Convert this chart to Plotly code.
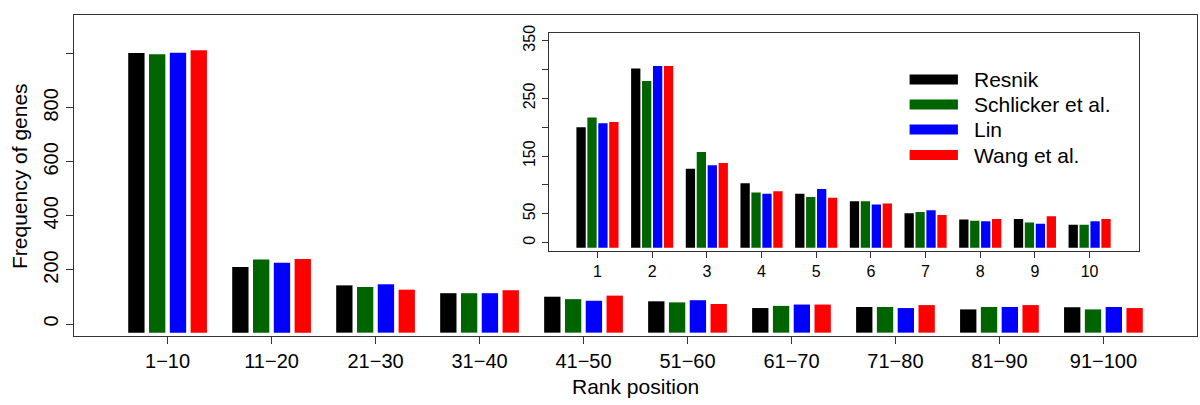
import plotly.graph_objects as go

# ---- data ----
series_names = ["Resnik", "Schlicker et al.", "Lin", "Wang et al."]
series_colors = ["#000000", "#006400", "#0000FF", "#FF0000"]

rank_bins = ["1−10", "11−20", "21−30", "31−40", "41−50",
             "51−60", "61−70", "71−80", "81−90", "91−100"]
main_resnik = [1003, 211, 143, 114, 101, 84, 59, 63, 54, 62]
main_schlicker = [998, 239, 137, 114, 92, 80, 67, 63, 63, 54]
main_lin = [1004, 227, 147, 114, 86, 88, 72, 59, 63, 63]
main_wang = [1013, 241, 127, 125, 105, 74, 72, 70, 70, 59]

top_ranks = ["1", "2", "3", "4", "5", "6", "7", "8", "9", "10"]
inset_resnik = [200, 302, 128, 103, 85, 72, 51, 40, 41, 31]
inset_schlicker = [217, 280, 157, 87, 79, 72, 53, 38, 35, 31]
inset_lin = [207, 306, 134, 85, 93, 66, 56, 37, 33, 37]
inset_wang = [209, 306, 138, 89, 78, 68, 48, 41, 46, 41]

main_yticks = [0, 200, 400, 600, 800, 1000]
main_yticktext = ["0", "200", "400", "600", "800", ""]
inset_yticks = [0, 50, 100, 150, 200, 250, 300, 350]
inset_yticktext = ["0", "50", "", "150", "", "250", "", "350"]

main_series = [main_resnik, main_schlicker, main_lin, main_wang]
inset_series = [inset_resnik, inset_schlicker, inset_lin, inset_wang]

# ---- styling ----
FONT = "Liberation Sans, Arial, Helvetica, sans-serif"
AXC = "#333333"
MAIN_BASE = -32
INSET_BASE = -8.7

fig = go.Figure()

main_w = 0.157
for j, (name, col, vals) in enumerate(zip(series_names, series_colors, main_series)):
    fig.add_trace(go.Bar(
        x=rank_bins, y=[v - MAIN_BASE for v in vals], base=MAIN_BASE,
        name=name, marker=dict(color=col, line=dict(width=0)),
        width=main_w, offset=-0.4 + j * 0.2 + (0.2 - main_w) / 2,
        xaxis="x", yaxis="y", showlegend=False,
    ))

inset_w = 0.17
for j, (name, col, vals) in enumerate(zip(series_names, series_colors, inset_series)):
    fig.add_trace(go.Bar(
        x=top_ranks, y=[v - INSET_BASE for v in vals], base=INSET_BASE,
        name=name, marker=dict(color=col, line=dict(width=0)),
        width=inset_w, offset=-0.4 + j * 0.2 + (0.2 - inset_w) / 2,
        xaxis="x2", yaxis="y2", showlegend=False,
    ))

# manual legend inside inset
leg_y = [0.788, 0.673, 0.557, 0.440]
shapes = []
annotations = []
for name, col, yy in zip(series_names, series_colors, leg_y):
    shapes.append(dict(type="rect", xref="x2 domain", yref="y2 domain",
                       x0=0.6115, x1=0.6934, y0=yy - 0.023, y1=yy + 0.023,
                       fillcolor=col, line=dict(width=0), layer="above"))
    annotations.append(dict(text=name, xref="x2 domain", yref="y2 domain",
                            x=0.7178, y=yy, xanchor="left", yanchor="middle",
                            showarrow=False, font=dict(size=21, color="black", family=FONT)))

shapes.insert(0, dict(type="rect", xref="x2 domain", yref="y2 domain",
                      x0=0, x1=1, y0=0, y1=1, fillcolor="white",
                      line=dict(width=0), layer="below"))

annotations.append(dict(text="Rank position", xref="paper", yref="paper",
                        x=0.5, y=(336 - 386) / 321, xanchor="center", yanchor="middle",
                        showarrow=False, font=dict(size=21, color="black", family=FONT)))
annotations.append(dict(text="Frequency of genes", xref="paper", yref="paper",
                        x=(20 - 74) / 1123.5, y=(336 - 176) / 321, textangle=-90,
                        xanchor="center", yanchor="middle",
                        showarrow=False, font=dict(size=21, color="black", family=FONT)))

fig.update_layout(
    width=1200, height=405,
    margin=dict(l=74, r=2.5, t=15, b=69),
    paper_bgcolor="white", plot_bgcolor="white",
    barmode="overlay",
    font=dict(family=FONT, color="black"),
    shapes=shapes, annotations=annotations,
    xaxis=dict(domain=[0, 1], range=[-0.9, 9.9], showline=True, mirror=True,
               linecolor=AXC, linewidth=1.3, ticks="outside", ticklen=7,
               tickcolor=AXC, tickwidth=1.3, showgrid=False, zeroline=False,
               tickfont=dict(size=20, family=FONT, color="black"), anchor="y"),
    yaxis=dict(domain=[0, 1], range=[-44.4, 1143.5], showline=True, mirror=True,
               linecolor=AXC, linewidth=1.3, ticks="outside", ticklen=7,
               tickcolor=AXC, tickwidth=1.3, showgrid=False, zeroline=False,
               tickvals=main_yticks, ticktext=main_yticktext, tickangle=-90,
               tickfont=dict(size=20, family=FONT, color="black"), anchor="x"),
    xaxis2=dict(domain=[0.4228, 0.9482], range=[-0.89, 9.9], showline=True, mirror=True,
                linecolor=AXC, linewidth=1.3, ticks="outside", ticklen=6,
                tickcolor=AXC, tickwidth=1.2, showgrid=False, zeroline=False,
                tickfont=dict(size=16, family=FONT, color="black"), anchor="y2"),
    yaxis2=dict(domain=[0.2657, 0.943], range=[-13.9, 362.8], showline=True, mirror=True,
                linecolor=AXC, linewidth=1.3, ticks="outside", ticklen=6,
                tickcolor=AXC, tickwidth=1.2, showgrid=False, zeroline=False,
                tickvals=inset_yticks, ticktext=inset_yticktext, tickangle=-90,
                tickfont=dict(size=16, family=FONT, color="black"), anchor="x2"),
)

fig.write_html("out.html", config={"displayModeBar": False},
               post_script="document.body.style.margin='0px';")
